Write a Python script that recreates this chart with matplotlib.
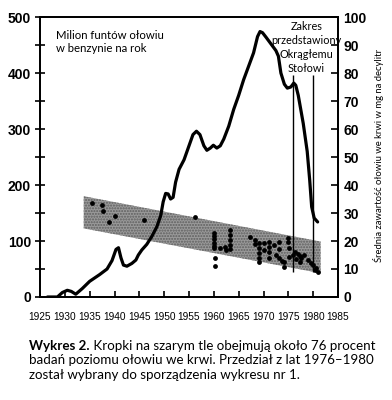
import matplotlib
matplotlib.use("Agg")
import matplotlib.pyplot as plt

# ---------------- data ----------------
lead_years = [1926.5, 1928.5, 1929.5, 1930.5, 1931.3, 1932.2, 1933.5, 1935, 1937, 1938.5,
              1939.5, 1940.3, 1940.8, 1941.3, 1941.8, 1942.5, 1943.5, 1944.3, 1944.8, 1945.5,
              1946.5, 1947.5, 1948.5, 1949.3, 1949.8, 1950.3, 1950.8, 1951.3, 1951.8, 1952.3,
              1953, 1954, 1955, 1955.8, 1956.5, 1957.2, 1958, 1958.6, 1959.3, 1959.9,
              1960.6, 1961.3, 1962, 1963, 1964, 1965, 1966, 1967, 1968, 1968.8,
              1969.3, 1969.8, 1970.5, 1971.5, 1972.5, 1973, 1973.5, 1974.2, 1974.8, 1975.5,
              1976.1, 1976.5, 1977, 1978, 1978.8, 1979.3, 1979.7, 1980.2, 1980.9]
lead_values = [0, 0, 8, 12, 10, 5, 15, 28, 40, 50,
               65, 85, 88, 70, 57, 55, 60, 66, 75, 84,
               94, 108, 125, 145, 170, 185, 184, 175, 178, 205,
               228, 245, 270, 290, 296, 290, 270, 262, 266, 271,
               266, 270, 282, 305, 335, 360, 388, 412, 436, 465,
               474, 472, 464, 452, 440, 430, 400, 380, 373, 375,
               382, 378, 360, 310, 260, 209, 161, 141, 134]

band_years = [1933.8, 1981.5]
band_top = [36.0, 19.8]
band_bottom = [24.5, 8.5]

dot_years = [1935.5, 1937.5, 1937.7, 1938.9, 1940.0, 1946.0, 1956.3,
             1960.0, 1960.0, 1960.0, 1960.0, 1960.0, 1960.0, 1960.2, 1960.2,
             1961.2, 1962.2, 1962.4,
             1963.2, 1963.2, 1963.3, 1963.3, 1963.3,
             1967.2, 1968.2, 1968.3,
             1969.1, 1969.1, 1969.1, 1969.1, 1969.1,
             1970.2, 1970.2,
             1971.2, 1971.2, 1971.2, 1971.2,
             1972.2, 1972.6,
             1973.2, 1973.2, 1973.2, 1973.8,
             1974.2, 1974.2,
             1975.0, 1975.0, 1975.2, 1975.2, 1975.9,
             1976.3, 1976.6, 1977.0, 1977.3, 1977.6, 1977.4, 1978.2, 1978.9,
             1979.5, 1979.9, 1980.3, 1980.6, 1981.0]
dot_values = [33.7, 32.9, 30.7, 26.7, 28.8, 27.5, 28.5,
              23.0, 21.8, 20.6, 19.4, 18.2, 17.5, 13.8, 11.2,
              17.6, 18.0, 16.8,
              23.9, 22.2, 20.4, 18.4, 17.2,
              21.5, 20.4, 19.0,
              19.2, 17.4, 15.6, 13.8, 12.4,
              19.2, 16.8,
              19.8, 18.0, 16.2, 13.8,
              18.6, 15.0,
              19.5, 17.0, 14.0, 12.8,
              12.6, 10.8,
              21.0, 19.5, 17.4, 14.4, 15.0,
              16.0, 13.5, 15.5, 14.5, 14.0, 12.5, 15.0, 13.2,
              12.0, 11.4, 9.5, 10.3, 9.0]

range_years = [1976, 1980]
range_top = 79.3
range_bottom = 9.0

x_ticks = list(range(1925, 1986, 5))
left_major = [0, 100, 200, 300, 400, 500]
left_minor = [50, 150, 250, 350, 450]
right_ticks = list(range(0, 101, 10))

left_label = "Milion funtów ołowiu\nw benzynie na rok"
right_label = "Średnia zawartość ołowiu we krwi w mg na decylitr"
range_label = "Zakres\nprzedstawiony\nOkrągłemu\nStołowi"
caption_bold = "Wykres 2."
caption_rest1 = " Kropki na szarym tle obejmują około 76 procent"
caption_line2 = "badań poziomu ołowiu we krwi. Przedział z lat 1976–1980"
caption_line3 = "został wybrany do sporządzenia wykresu nr 1."

# ---------------- fonts ----------------
tickfont = "Liberation Sans"
txtfont = "Lato"

# ---------------- figure ----------------
fig = plt.figure(figsize=(3.92, 4.0), dpi=100)
ax = fig.add_axes([40/392, 1-297/400, (338-40)/392, (297-17)/400])
ax2 = ax.twinx()

ax.set_xlim(1925, 1985)
ax.set_ylim(0, 500)
ax2.set_ylim(0, 100)

# band and dots (right axis)
ax2.fill_between(band_years, band_bottom, band_top, facecolor="#9a9a9a",
                 edgecolor="#5e5e5e", hatch="......", linewidth=0, zorder=1)
ax2.scatter(dot_years, dot_values, s=12, color="black", zorder=3, linewidths=0)
ax2.vlines(range_years, range_bottom, range_top, color="black", linewidth=1.0, zorder=4)

# lead curve (left axis)
ax.plot(lead_years, lead_values, color="black", linewidth=2.3, solid_capstyle="round",
        solid_joinstyle="round", zorder=5)
ax.set_zorder(ax2.get_zorder() + 1)
ax.patch.set_visible(False)

for a in (ax, ax2):
    for s in a.spines.values():
        s.set_linewidth(1.3)

ax.set_xticks(x_ticks)
ax.set_xticklabels([str(y) for y in x_ticks], fontfamily=tickfont, fontsize=7.3)
ax.set_yticks(left_major)
ax.set_yticks(left_minor, minor=True)
ax.set_yticklabels([str(v) for v in left_major], fontfamily=tickfont, fontsize=10,
                   fontweight="bold")
ax2.set_yticks(right_ticks)
ax2.set_yticklabels([str(v) for v in right_ticks], fontfamily=tickfont, fontsize=10,
                    fontweight="bold")

ax.tick_params(axis="x", direction="in", length=4, width=1.2, pad=10.5)
ax.tick_params(axis="y", which="both", direction="inout", length=7, width=1.2, pad=3)
ax2.tick_params(axis="y", direction="in", length=5, width=1.2, pad=4)

ax.text(1928.2, 455, left_label, fontfamily=txtfont, fontsize=8.2, va="center",
        ha="left", linespacing=1.25)
ax2.text(1978.6, 89.1, range_label, fontfamily=txtfont, fontsize=7.8, va="center",
         ha="center", linespacing=1.3)
fig.text(378/392, 1-156/400, right_label, fontfamily=txtfont, fontsize=6.8,
         rotation=90, ha="center", va="center")

t1 = fig.text(29/392, 1-346/400, caption_bold, fontfamily=txtfont, fontsize=9.6,
              fontweight="bold", ha="left", va="center")
plt.annotate(caption_rest1, xy=(1, 0), xycoords=t1, va="bottom", ha="left",
             fontfamily=txtfont, fontsize=9.6, annotation_clip=False)
fig.text(29/392, 1-360.5/400, caption_line2, fontfamily=txtfont, fontsize=9.6,
         ha="left", va="center")
fig.text(29/392, 1-375/400, caption_line3, fontfamily=txtfont, fontsize=9.6,
         ha="left", va="center")

fig.savefig("out.png", dpi=100)
